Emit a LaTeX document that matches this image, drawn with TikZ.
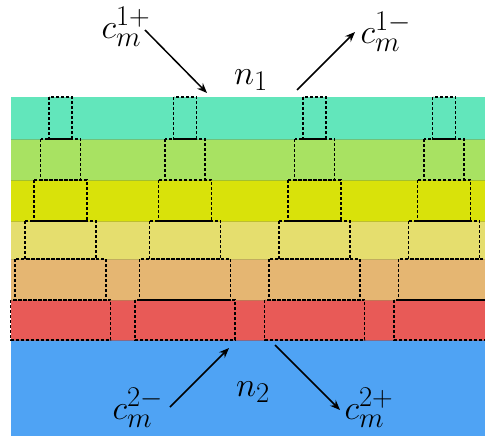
\documentclass[tikz,border=0pt]{standalone}
\usetikzlibrary{arrows.meta}
\definecolor{lgreen}{HTML}{62E6BB}
\definecolor{lime}{HTML}{A8E262}
\definecolor{lyellow}{HTML}{D9E20A}
\definecolor{pyellow}{HTML}{E5DE6E}
\definecolor{lorange}{HTML}{E5B672}
\definecolor{lred}{HTML}{E85A57}
\definecolor{lblue}{HTML}{4FA3F4}
\newcommand{\biglbl}[1]{\scalebox{1.38}{\fontsize{24.88}{30}\selectfont$#1$}}
\tikzset{
  dbox/.style={draw=black, line width=1.3pt, dash pattern=on 3pt off 2pt},
  lbl/.style={inner sep=0pt},
  arr/.style={line width=1.5pt, -{Stealth[length=10pt,width=8pt]}},
}
\begin{document}
\begin{tikzpicture}[x=1pt,y=-1pt]
\useasboundingbox (0,0) rectangle (485,436);
% layers
\def\L{11}\def\R{485}
\foreach \ya/\yb/\c in {97/139/lgreen,139/180/lime,180/221/lyellow,221/259/pyellow,259/300/lorange,300/340/lred,340/436/lblue}{
  \fill[\c] (\L,\ya) rectangle (\R,\yb);
}
\foreach \yb/\c in {139/lgreen,180/lime,221/lyellow,259/pyellow,300/lorange,340/lred}{
  \draw[\c!75!black, line width=0.8pt, opacity=0.6] (\L,\yb) -- (\R,\yb);
}
% dashed boxes
\foreach \cx in {60.5,185,314.5,444}{
  \foreach \ya/\yb/\w in {97/139/23,139/180/40,180/221/53,221/259/71,259/300/91,300/340/100}{
    \draw[dbox] (\cx-\w/2,\ya) rectangle (\cx+\w/2,\yb);
  }
}
% labels
\node[lbl] (c1p) at (126,27) {\biglbl{c_m^{1+}}};
\node[lbl] (c1m) at (386,32) {\biglbl{c_m^{1-}}};
\node[lbl] (n1) at (251,80) {\biglbl{n_1}};
\node[lbl] (n2) at (253,392) {\biglbl{n_2}};
\node[lbl] (c2m) at (138,408) {\biglbl{c_m^{2-}}};
\node[lbl] (c2p) at (369,408) {\biglbl{c_m^{2+}}};
% arrow ends
\coordinate (a1s) at (145,30); \coordinate (a1e) at (207,93);
\coordinate (a2s) at (297,90); \coordinate (a2e) at (355,32);
\coordinate (a3s) at (170,407); \coordinate (a3e) at (229,348);
\coordinate (a4s) at (275,345); \coordinate (a4e) at (340,410);
\draw[arr] (a1s) -- (a1e);
\draw[arr] (a2s) -- (a2e);
\draw[arr] (a3s) -- (a3e);
\draw[arr] (a4s) -- (a4e);
\end{tikzpicture}
\end{document}
